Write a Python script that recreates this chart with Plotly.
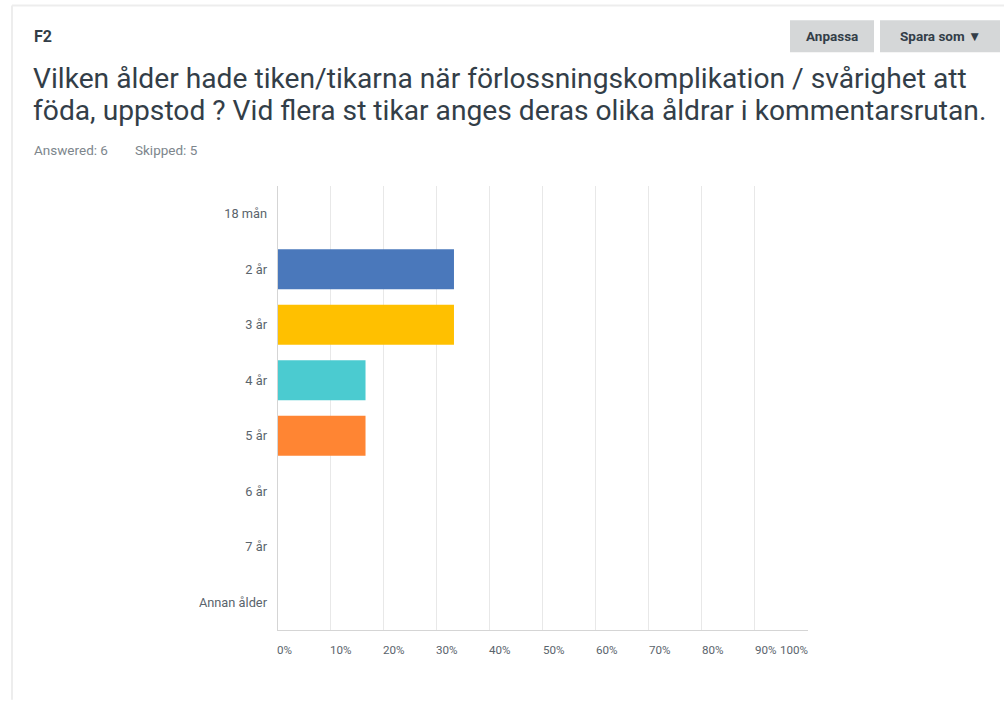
import plotly.graph_objects as go

categories = ["18 mån", "2 år", "3 år", "4 år", "5 år", "6 år", "7 år", "Annan ålder"]
values = [0, 33.33, 33.33, 16.67, 16.67, 0, 0, 0]
bar_colors = ["#4A78BB", "#4A78BB", "#FFC000", "#4BCBD0", "#FF8533", "#4A78BB", "#4A78BB", "#4A78BB"]
tick_vals = [0, 10, 20, 30, 40, 50, 60, 70, 80, 90, 100]
tick_text = ["0%", "10%", "20%", "30%", "40%", "50%", "60%", "70%", "80%", "90%", "100%"]

title_code = "F2"
question_lines = ["Vilken ålder hade tiken/tikarna när förlossningskomplikation / svårighet att",
                  "föda, uppstod ? Vid flera st tikar anges deras olika åldrar i kommentarsrutan."]
answered = "Answered: 6"
skipped = "Skipped: 5"

FONT = "Roboto"
TXT = "#333E48"
AX = "#5A646C"

fig = go.Figure()
fig.add_trace(go.Bar(
    x=values, y=categories, orientation="h",
    marker=dict(color=bar_colors, line=dict(width=0)),
    hoverinfo="x+y", showlegend=False,
))

fig.update_layout(
    width=1004, height=701,
    margin=dict(l=277, r=196, t=186, b=71),
    paper_bgcolor="white", plot_bgcolor="white",
    bargap=0.28,
    font=dict(family=FONT, color=AX, size=12),
    xaxis=dict(range=[0, 100], tickvals=tick_vals, showticklabels=False,
               showgrid=True, gridcolor="#E8E8E8", gridwidth=1,
               zeroline=False, showline=True, linecolor="#D5D5D5", linewidth=1,
               mirror=False, fixedrange=True),
    yaxis=dict(categoryorder="array", categoryarray=categories, autorange="reversed",
               showgrid=False, zeroline=False, showline=False,
               ticks="", ticklabelstandoff=9,
               tickfont=dict(family=FONT, size=12.8, color=AX), fixedrange=True),
)

# vertical axis line on the left
fig.add_shape(type="line", xref="x", yref="paper", x0=0, x1=0, y0=0, y1=1,
              line=dict(color="#D5D5D5", width=2), layer="above")

# x tick labels, left-aligned at gridlines (last right-aligned)
for v, t in zip(tick_vals, tick_text):
    fig.add_annotation(x=v, y=0, xref="x", yref="paper", text=t, showarrow=False,
                       xanchor="right" if v == 100 else "left", yanchor="top",
                       yshift=-11, xshift=2 if v == 100 else -2,
                       font=dict(family=FONT, size=11.6, color=AX))

def px_x(p):
    return (p - 277) / 531

def px_y(p):
    return 1 - (p - 186) / 445

# card border
fig.add_shape(type="line", xref="paper", yref="paper",
              x0=px_x(12), x1=px_x(1004), y0=px_y(5), y1=px_y(5),
              line=dict(color="#EDEDED", width=2))
fig.add_shape(type="line", xref="paper", yref="paper",
              x0=px_x(12), x1=px_x(12), y0=px_y(5), y1=px_y(701),
              line=dict(color="#EDEDED", width=2))

# header texts
fig.add_annotation(x=px_x(32), y=px_y(36), xref="paper", yref="paper", text="<b>" + title_code + "</b>",
                   showarrow=False, xanchor="left", yanchor="middle",
                   font=dict(family=FONT, size=16, color=TXT))
for i, line in enumerate(question_lines):
    fig.add_annotation(x=px_x(31), y=px_y(78 + 32 * i), xref="paper", yref="paper", text=line,
                       showarrow=False, xanchor="left", yanchor="middle", align="left",
                       font=dict(family=FONT, size=28.2, color=TXT))
fig.add_annotation(x=px_x(32), y=px_y(150), xref="paper", yref="paper", text=answered,
                   showarrow=False, xanchor="left", yanchor="middle",
                   font=dict(family=FONT, size=13.5, color="#7D868C"))
fig.add_annotation(x=px_x(133), y=px_y(150), xref="paper", yref="paper", text=skipped,
                   showarrow=False, xanchor="left", yanchor="middle",
                   font=dict(family=FONT, size=13.5, color="#7D868C"))

# buttons
for x0, x1, label in [(790, 874, "Anpassa"), (880, 1000, "Spara som &#9660;")]:
    fig.add_shape(type="rect", xref="paper", yref="paper",
                  x0=px_x(x0), x1=px_x(x1), y0=px_y(20), y1=px_y(52),
                  fillcolor="#D5D7D8", line=dict(width=0))
    fig.add_annotation(x=px_x((x0 + x1) / 2), y=px_y(36), xref="paper", yref="paper",
                       text="<b>" + label + "</b>", showarrow=False,
                       xanchor="center", yanchor="middle",
                       font=dict(family=FONT, size=13.5, color=TXT))

fig.write_html("out.html")
